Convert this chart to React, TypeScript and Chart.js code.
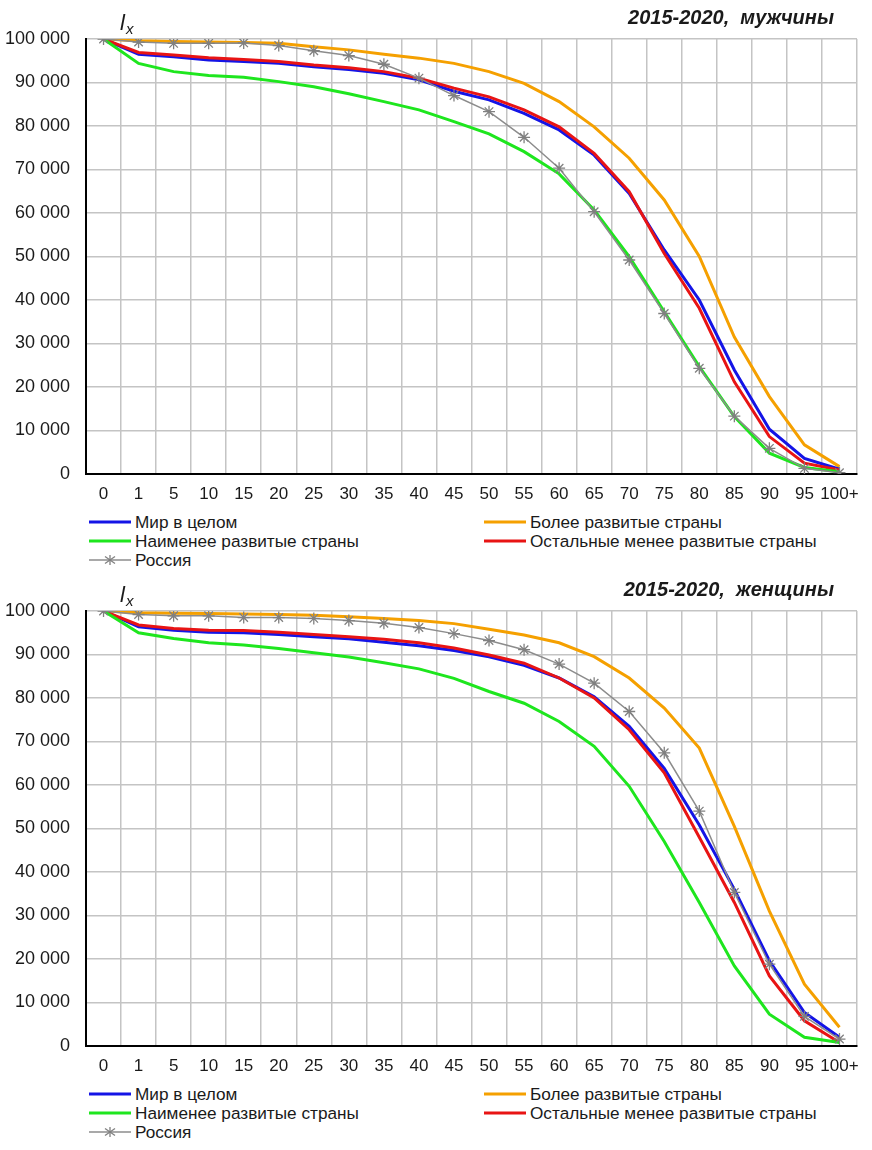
import { useEffect, useRef } from "react";
import { Chart, registerables } from "chart.js";

Chart.register(...registerables);

// age groups (x axis)
const AGES = ["0", "1", "5", "10", "15", "20", "25", "30", "35", "40", "45", "50", "55", "60", "65", "70", "75", "80", "85", "90", "95", "100+"];

const SERIES_LABELS = ["Мир в целом", "Более развитые страны", "Наименее развитые страны", "Остальные менее развитые страны", "Россия"];
const SERIES_COLORS = ["#1414e6", "#f5a000", "#1ee61e", "#e81414", "#8c8c8c"];

// l(x), males 2015-2020
const worldM = [100000, 96500, 95900, 95200, 94800, 94400, 93600, 93000, 92100, 90600, 88000, 86000, 82900, 79100, 73300, 64500, 51500, 40000, 23900, 10300, 3600, 1100];
const moreDevM = [100000, 99600, 99400, 99300, 99200, 99000, 98200, 97500, 96500, 95600, 94400, 92500, 89800, 85600, 79800, 72600, 63000, 50000, 31500, 17800, 6700, 1700];
const leastDevM = [100000, 94400, 92500, 91600, 91200, 90200, 89000, 87400, 85600, 83700, 81000, 78200, 74100, 69000, 60700, 50000, 37300, 24700, 13200, 4800, 1500, 500];
const otherLessDevM = [100000, 96900, 96300, 95700, 95300, 94800, 94000, 93400, 92500, 91000, 88700, 86700, 83700, 79800, 73700, 64900, 50700, 38100, 21200, 8600, 2500, 900];
const russiaM = [100000, 99300, 99000, 99000, 99100, 98500, 97300, 96200, 94200, 91000, 87000, 83300, 77400, 70300, 60300, 49200, 36900, 24300, 13300, 5900, 1300, 300];

// l(x), females 2015-2020
const worldF = [100000, 96400, 95600, 95100, 95000, 94600, 94100, 93600, 92800, 92000, 90900, 89500, 87500, 84600, 80300, 73500, 63800, 50800, 36000, 19600, 7700, 2000];
const moreDevF = [100000, 99600, 99500, 99400, 99300, 99200, 99000, 98700, 98300, 97800, 97100, 95800, 94500, 92700, 89500, 84600, 77700, 68500, 50500, 31000, 14200, 4300];
const leastDevF = [100000, 95000, 93700, 92700, 92200, 91400, 90400, 89400, 88100, 86700, 84500, 81500, 78800, 74600, 68900, 59700, 47000, 33000, 18400, 7300, 2000, 800];
const otherLessDevF = [100000, 96800, 96000, 95600, 95500, 95100, 94600, 94100, 93500, 92700, 91500, 89900, 88000, 84600, 80000, 72700, 62800, 48000, 33000, 16100, 5800, 800];
const russiaF = [100000, 99200, 98900, 98900, 98500, 98500, 98300, 97800, 97200, 96200, 94800, 93200, 91100, 87800, 83400, 76900, 67400, 54000, 35300, 18800, 6800, 1600];

const FONT = "'Liberation Sans', Arial, sans-serif";
const TEXT = "#1a1a1a";

const fmt = (v: number) => String(v).replace(/\B(?=(\d{3})+(?!\d))/g, " ");

// title + "l x" label drawn on the canvas
const annotations = {
  id: "annotations",
  afterDraw(chart: any, _args: any, opts: any) {
    const ctx = chart.ctx;
    ctx.save();
    ctx.fillStyle = TEXT;
    ctx.textBaseline = "alphabetic";
    ctx.textAlign = "right";
    ctx.font = `italic bold 20px ${FONT}`;
    ctx.fillText(opts.title, 834, 24);
    ctx.textAlign = "left";
    ctx.font = `italic 22px ${FONT}`;
    ctx.fillText("l", 120, 30);
    ctx.font = `italic 15px ${FONT}`;
    ctx.fillText("x", 126, 34);
    ctx.restore();
  },
};

function LifeChart({ title, series }: { title: string; series: number[][] }) {
  const canvasRef = useRef<HTMLCanvasElement | null>(null);

  useEffect(() => {
    if (!canvasRef.current) return;
    // draw order: Russia on top, then green, red, blue, orange
    const drawOrder = [3, 4, 1, 2, 0];

    const chart = new Chart(canvasRef.current, {
      type: "line",
      data: {
        labels: AGES,
        datasets: series.map((data, i) => ({
          label: SERIES_LABELS[i],
          data,
          borderColor: SERIES_COLORS[i],
          backgroundColor: SERIES_COLORS[i],
          borderWidth: i === 4 ? 1.5 : 3,
          pointRadius: i === 4 ? 6 : 0,
          pointStyle: "star",
          pointBorderWidth: 1.3,
          pointBorderColor: "#808080",
          tension: 0,
          order: drawOrder[i],
        })),
      },
      options: {
        responsive: true,
        maintainAspectRatio: false,
        animation: false,
        layout: { padding: { top: 39, right: 15, left: 0, bottom: 0 } },
        plugins: {
          legend: { display: false },
          tooltip: { enabled: false },
          annotations: { title },
        } as any,
        scales: {
          x: {
            offset: true,
            grid: { offset: true, color: "#c4c4c4", lineWidth: 1.5, drawTicks: false },
            border: { color: "#000", width: 2 },
            ticks: { color: TEXT, font: { family: FONT, size: 17 }, padding: 10, autoSkip: false, maxRotation: 0 },
            afterFit: (s: any) => {
              s.height = 31;
            },
          },
          y: {
            min: 0,
            max: 100000,
            grid: { color: "#c4c4c4", lineWidth: 1.5, drawTicks: false },
            border: { color: "#000", width: 2 },
            ticks: {
              stepSize: 10000,
              color: TEXT,
              font: { family: FONT, size: 18 },
              padding: 16,
              callback: (v: any) => fmt(Number(v)),
            },
            afterFit: (s: any) => {
              s.width = 86;
            },
          },
        },
      },
      plugins: [annotations],
    });

    return () => chart.destroy();
  }, [title, series]);

  return (
    <div style={{ position: "absolute", left: 0, top: 0, width: 872, height: 505 }}>
      <canvas ref={canvasRef} />
    </div>
  );
}

function LegendItem({ index, left, top }: { index: number; left: number; top: number }) {
  const color = SERIES_COLORS[index];
  const isRussia = index === 4;
  return (
    <div style={{ position: "absolute", left, top: top - 10, height: 20, display: "flex", alignItems: "center", whiteSpace: "nowrap" }}>
      <svg width={42} height={14} style={{ marginRight: 4 }}>
        <line x1={0} y1={7} x2={42} y2={7} stroke={color} strokeWidth={isRussia ? 1.5 : 3} />
        {isRussia && (
          <g stroke="#808080" strokeWidth={1.3}>
            <line x1={21} y1={2} x2={21} y2={12} />
            <line x1={16} y1={3.5} x2={26} y2={10.5} />
            <line x1={16} y1={10.5} x2={26} y2={3.5} />
          </g>
        )}
      </svg>
      <span style={{ fontFamily: FONT, fontSize: 17.2, color: TEXT }}>{SERIES_LABELS[index]}</span>
    </div>
  );
}

function Panel({ top, title, series }: { top: number; title: string; series: number[][] }) {
  return (
    <div style={{ position: "absolute", left: 0, top, width: 872, height: 572 }}>
      <LifeChart title={title} series={series} />
      <LegendItem index={0} left={89} top={522} />
      <LegendItem index={2} left={89} top={541} />
      <LegendItem index={4} left={89} top={560} />
      <LegendItem index={1} left={484} top={522} />
      <LegendItem index={3} left={484} top={541} />
    </div>
  );
}

const MALE = [worldM, moreDevM, leastDevM, otherLessDevM, russiaM];
const FEMALE = [worldF, moreDevF, leastDevF, otherLessDevF, russiaF];

export default function App() {
  return (
    <div style={{ position: "absolute", left: 0, top: 0, width: 872, height: 1150, background: "#fff" }}>
      <Panel top={0} title="2015-2020,  мужчины" series={MALE} />
      <Panel top={572} title="2015-2020,  женщины" series={FEMALE} />
    </div>
  );
}
